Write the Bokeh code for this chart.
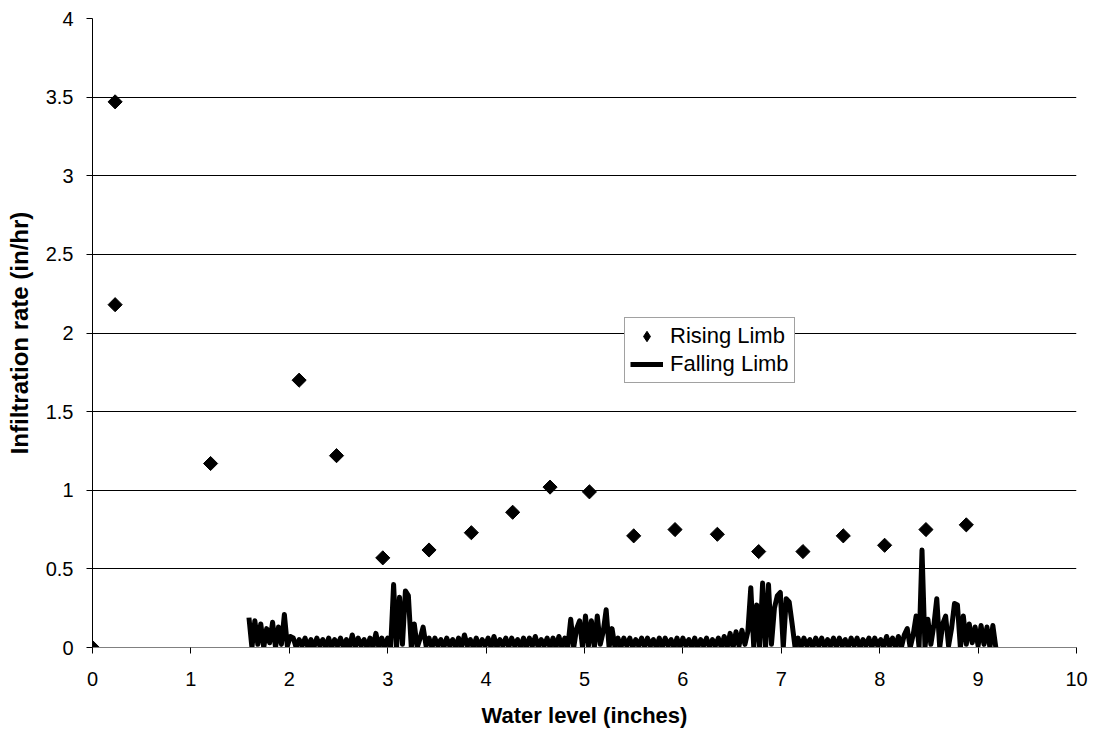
import math
from bokeh.plotting import figure
from bokeh.models import Range1d, FixedTicker, Legend, LegendItem
from bokeh.embed import file_html
from bokeh.resources import INLINE

# ---- data ----
rising_x = [0.0, 0.23, 0.23, 1.2, 2.1, 2.48, 2.95, 3.42, 3.85, 4.27, 4.65, 5.05,
            5.5, 5.92, 6.35, 6.77, 7.22, 7.63, 8.05, 8.47, 8.88]
rising_y = [0.0, 3.47, 2.18, 1.17, 1.70, 1.22, 0.57, 0.62, 0.73, 0.86, 1.02, 0.99,
            0.71, 0.75, 0.72, 0.61, 0.61, 0.71, 0.65, 0.75, 0.78]

falling_x = [
    1.59, 1.62, 1.65, 1.68, 1.71, 1.74, 1.77, 1.80, 1.83, 1.86, 1.89, 1.92, 1.95, 1.98, 2.01,
    2.04, 2.07, 2.10, 2.13, 2.16, 2.19, 2.22, 2.25, 2.28, 2.31, 2.34, 2.37, 2.40, 2.43, 2.46, 2.49,
    2.52, 2.55, 2.58, 2.61, 2.64, 2.67, 2.70, 2.73, 2.76, 2.79, 2.82, 2.85, 2.88, 2.91, 2.94, 2.97,
    3.00, 3.03, 3.06, 3.09, 3.12, 3.15, 3.18, 3.21, 3.24, 3.27, 3.30, 3.33, 3.36, 3.39,
    3.42, 3.45, 3.48, 3.51, 3.54, 3.57, 3.60, 3.63, 3.66, 3.69, 3.72, 3.75, 3.78, 3.81, 3.84, 3.87,
    3.90, 3.93, 3.96, 3.99, 4.02, 4.05, 4.08, 4.11, 4.14, 4.17, 4.20, 4.23, 4.26, 4.29, 4.32, 4.35,
    4.38, 4.41, 4.44, 4.47, 4.50, 4.53, 4.56, 4.59, 4.62, 4.65, 4.68, 4.71, 4.74, 4.77, 4.80,
    4.83, 4.86, 4.89, 4.92, 4.95, 4.98, 5.01, 5.04, 5.07, 5.10, 5.13, 5.16, 5.19, 5.22, 5.25, 5.28,
    5.31, 5.34,
    5.37, 5.40, 5.43, 5.46, 5.49, 5.52, 5.55, 5.58, 5.61, 5.64, 5.67, 5.70, 5.73, 5.76, 5.79, 5.82,
    5.85, 5.88, 5.91, 5.94, 5.97, 6.00, 6.03, 6.06, 6.09, 6.12, 6.15, 6.18, 6.21, 6.24, 6.27, 6.30,
    6.33, 6.36, 6.39, 6.42, 6.45,
    6.48, 6.51, 6.54, 6.57, 6.60, 6.63, 6.66, 6.69, 6.72, 6.75, 6.78, 6.81, 6.84, 6.87, 6.90, 6.93,
    6.96, 6.99, 7.02, 7.05, 7.08, 7.11, 7.14,
    7.17, 7.20, 7.23, 7.26, 7.29, 7.32, 7.35, 7.38, 7.41, 7.44, 7.47, 7.50, 7.53, 7.56, 7.59, 7.62,
    7.65, 7.68, 7.71, 7.74, 7.77, 7.80, 7.83, 7.86, 7.89, 7.92, 7.95, 7.98, 8.01, 8.04, 8.07, 8.10,
    8.13, 8.16, 8.19, 8.22, 8.25,
    8.28, 8.31, 8.34, 8.37, 8.40, 8.43, 8.46, 8.49, 8.52, 8.55, 8.58, 8.61, 8.64, 8.67, 8.70, 8.73,
    8.76, 8.79, 8.82, 8.85, 8.88, 8.91, 8.94, 8.97, 9.00, 9.03, 9.06, 9.09, 9.12, 9.15, 9.18,
]
falling_y = [
    0.19, 0.00, 0.17, 0.02, 0.15, 0.00, 0.12, 0.03, 0.16, 0.00, 0.13, 0.02, 0.21, 0.01, 0.07,
    0.06, 0.00, 0.05, 0.01, 0.06, 0.00, 0.05, 0.00, 0.06, 0.01, 0.05, 0.00, 0.06, 0.00, 0.05, 0.01,
    0.06, 0.00, 0.05, 0.00, 0.08, 0.00, 0.06, 0.01, 0.05, 0.00, 0.06, 0.00, 0.09, 0.00, 0.06, 0.00,
    0.06, 0.00, 0.40, 0.00, 0.32, 0.02, 0.36, 0.33, 0.00, 0.15, 0.00, 0.06, 0.13, 0.01,
    0.06, 0.00, 0.06, 0.01, 0.05, 0.00, 0.06, 0.01, 0.05, 0.00, 0.06, 0.00, 0.08, 0.01, 0.05, 0.00,
    0.06, 0.00, 0.05, 0.01, 0.06, 0.00, 0.07, 0.00, 0.05, 0.01, 0.06, 0.00, 0.06, 0.01, 0.05, 0.00,
    0.06, 0.00, 0.06, 0.01, 0.07, 0.00, 0.05, 0.01, 0.06, 0.00, 0.06, 0.00, 0.07, 0.00, 0.06,
    0.00, 0.18, 0.00, 0.12, 0.17, 0.00, 0.20, 0.01, 0.17, 0.00, 0.20, 0.02, 0.10, 0.24, 0.00, 0.12,
    0.00, 0.06,
    0.00, 0.06, 0.01, 0.06, 0.00, 0.05, 0.01, 0.06, 0.00, 0.06, 0.01, 0.05, 0.00, 0.06, 0.00, 0.06,
    0.01, 0.05, 0.00, 0.06, 0.00, 0.06, 0.01, 0.05, 0.00, 0.06, 0.00, 0.05, 0.01, 0.06, 0.00, 0.05,
    0.01, 0.06, 0.00, 0.07, 0.00,
    0.09, 0.00, 0.10, 0.01, 0.11, 0.02, 0.10, 0.38, 0.00, 0.27, 0.00, 0.41, 0.00, 0.40, 0.02, 0.25,
    0.33, 0.35, 0.00, 0.31, 0.29, 0.15, 0.00,
    0.06, 0.00, 0.06, 0.01, 0.05, 0.00, 0.06, 0.01, 0.06, 0.00, 0.05, 0.01, 0.06, 0.00, 0.06, 0.01,
    0.05, 0.00, 0.06, 0.01, 0.06, 0.00, 0.05, 0.01, 0.06, 0.00, 0.06, 0.01, 0.05, 0.00, 0.07, 0.01,
    0.06, 0.00, 0.07, 0.00, 0.08,
    0.12, 0.00, 0.08, 0.20, 0.00, 0.62, 0.00, 0.18, 0.02, 0.14, 0.31, 0.00, 0.15, 0.20, 0.01, 0.12,
    0.28, 0.27, 0.00, 0.20, 0.02, 0.15, 0.03, 0.13, 0.01, 0.14, 0.02, 0.13, 0.00, 0.14, 0.00,
]

x_ticks = [0, 1, 2, 3, 4, 5, 6, 7, 8, 9, 10]
x_tick_labels = ["0", "1", "2", "3", "4", "5", "6", "7", "8", "9", "10"]
y_ticks = [0, 0.5, 1, 1.5, 2, 2.5, 3, 3.5, 4]
y_tick_labels = ["0", "0.5", "1", "1.5", "2", "2.5", "3", "3.5", "4"]

FONT = "Liberation Sans"

p = figure(width=1094, height=734, output_backend="svg", toolbar_location=None,
           x_range=Range1d(0, 10), y_range=Range1d(0, 4),
           min_border_left=92, min_border_right=18, min_border_top=18, min_border_bottom=87)
p.outline_line_color = None
p.background_fill_color = "white"
p.border_fill_color = "white"

# grid
p.xgrid.grid_line_color = None
p.ygrid.ticker = FixedTicker(ticks=y_ticks[1:])
p.ygrid.grid_line_color = "black"
p.ygrid.grid_line_width = 1

# axes
p.xaxis.ticker = FixedTicker(ticks=x_ticks)
p.xaxis.major_label_overrides = {t: l for t, l in zip(x_ticks, x_tick_labels)}
p.yaxis.ticker = FixedTicker(ticks=y_ticks)
p.yaxis.major_label_overrides = {t: l for t, l in zip(y_ticks, y_tick_labels)}
for ax in (p.xaxis, p.yaxis):
    ax.minor_tick_line_color = None
    ax.major_tick_in = 0
    ax.major_tick_out = 6
    ax.major_label_text_font = FONT
    ax.major_label_text_font_size = "20px"
    ax.major_label_text_color = "black"
    ax.axis_label_text_font = FONT
    ax.axis_label_text_font_style = "bold"
    ax.axis_label_text_color = "black"
p.xaxis.axis_label_text_font_size = "22px"
p.yaxis.axis_label_text_font_size = "24px"
p.xaxis.axis_line_color = "#808080"
p.xaxis.major_tick_line_color = "black"
p.yaxis.axis_line_color = "black"
p.yaxis.major_tick_line_color = "black"
p.xaxis.major_label_standoff = 18
p.yaxis.major_label_standoff = 13
p.xaxis.axis_label = "Water level (inches)"
p.yaxis.axis_label = "Infiltration rate (in/hr)"
p.xaxis.axis_label_standoff = 14
p.yaxis.axis_label_standoff = 10

# glyphs
r_fall = p.line(falling_x, falling_y, line_color="black", line_width=5, line_join="round")
r_rise = p.scatter(rising_x, rising_y, marker="square", size=10, angle=math.pi / 4,
                   fill_color="black", line_color="black")
# legend-only swatch: a single undefined (NaN) point, never drawn in the plot
r_rise_key = p.scatter(x=[float("nan")], y=[float("nan")], marker="diamond", size=10,
                       fill_color="black", line_color="black")

legend = Legend(items=[LegendItem(label="Rising Limb", renderers=[r_rise_key]),
                       LegendItem(label="Falling Limb", renderers=[r_fall])],
                location=(532, 264))
legend.label_text_font = FONT
legend.label_text_font_size = "22px"
legend.label_text_color = "black"
legend.border_line_color = "#444444"
legend.border_line_width = 1
legend.background_fill_color = "white"
legend.background_fill_alpha = 1
legend.padding = 5
legend.spacing = 2
legend.margin = 0
legend.glyph_width = 33
legend.glyph_height = 26
legend.label_height = 26
legend.label_standoff = 7
p.add_layout(legend)

open("out.html", "w").write(file_html(p, INLINE))
